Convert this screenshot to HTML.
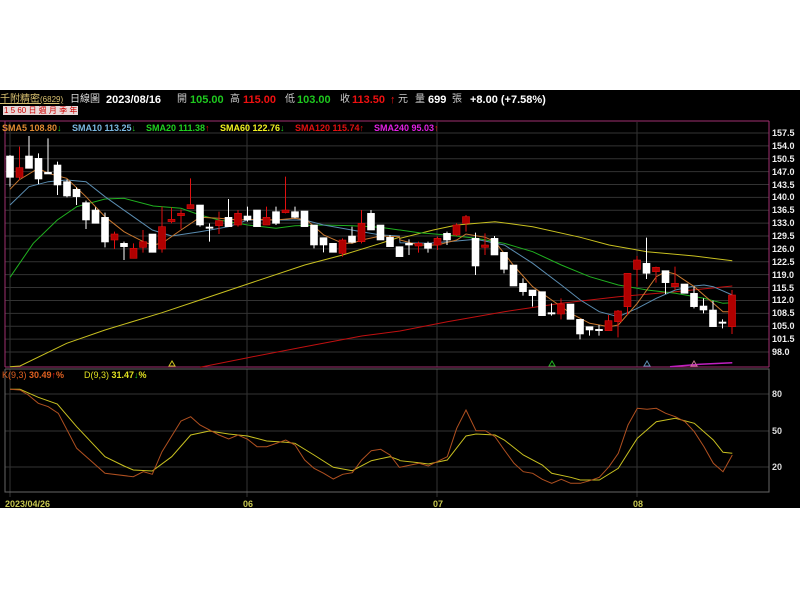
<!DOCTYPE html>
<html><head><meta charset="utf-8">
<style>
html,body{margin:0;padding:0;background:#fff;width:800px;height:600px;overflow:hidden;font-family:"Liberation Sans","Noto Sans CJK TC",sans-serif}
#bg{position:absolute;left:0;top:90px;width:800px;height:418px;background:#000}
.t{position:absolute;font-size:11px;font-weight:bold;white-space:nowrap;line-height:12px}
.l{position:absolute;font-size:9px;font-weight:bold;white-space:nowrap;top:123px;line-height:10px}
svg{position:absolute;left:0;top:0}
</style></head><body>
<div id="bg"></div>
<svg id="s" width="800" height="600"></svg>
<div class="t" style="left:0;top:94px;color:#d8c070;font-weight:normal;font-size:10px;text-decoration:underline">千附精密<span style="font-size:8px">(6829)</span></div>
<div class="t" style="left:70px;top:94px;color:#ddd;font-weight:normal;font-size:10px">日線圖</div>
<div class="t" style="left:106px;top:94px;color:#fff">2023/08/16</div>
<div class="t" style="left:177px;top:94px;color:#ccc;font-weight:normal;font-size:10px">開</div>
<div class="t" style="left:190px;top:94px;color:#1ec81e">105.00</div>
<div class="t" style="left:230px;top:94px;color:#ccc;font-weight:normal;font-size:10px">高</div>
<div class="t" style="left:243px;top:94px;color:#f01010">115.00</div>
<div class="t" style="left:285px;top:94px;color:#ccc;font-weight:normal;font-size:10px">低</div>
<div class="t" style="left:297px;top:94px;color:#1ec81e">103.00</div>
<div class="t" style="left:340px;top:94px;color:#ccc;font-weight:normal;font-size:10px">收</div>
<div class="t" style="left:352px;top:94px;color:#f01010">113.50</div>
<div class="t" style="left:390px;top:94px;color:#f01010">↑</div>
<div class="t" style="left:398px;top:94px;color:#ccc;font-weight:normal;font-size:10px">元</div>
<div class="t" style="left:415px;top:94px;color:#ccc;font-weight:normal;font-size:10px">量</div>
<div class="t" style="left:428px;top:94px;color:#fff">699</div>
<div class="t" style="left:452px;top:94px;color:#ccc;font-weight:normal;font-size:10px">張</div>
<div class="t" style="left:470px;top:94px;color:#fff">+8.00 (+7.58%)</div>
<div class="t" style="left:3px;top:106px;font-size:8px;font-weight:normal;line-height:9px;color:#c00;background:#e8d8d8;padding:0 1px">1 5 60 日 週 月 季 年</div>
<div class="l" style="left:2px;color:#e08a30">SMA5 108.80<span style="color:#1ec81e">↓</span></div>
<div class="l" style="left:72px;color:#7ab8e0">SMA10 113.25<span style="color:#1ec81e">↓</span></div>
<div class="l" style="left:146px;color:#20d020">SMA20 111.38<span style="color:#f01010">↑</span></div>
<div class="l" style="left:220px;color:#f0f020">SMA60 122.76<span style="color:#1ec81e">↓</span></div>
<div class="l" style="left:295px;color:#e01010">SMA120 115.74<span style="color:#f01010">↑</span></div>
<div class="l" style="left:374px;color:#e020e0">SMA240 95.03<span style="color:#f01010">↑</span></div>
<div class="l" style="left:2px;top:370px;color:#e06020;font-weight:normal">K(9,3) <b>30.49</b><span style="color:#f01010">↑</span><b>%</b></div>
<div class="l" style="left:84px;top:370px;color:#e0e020;font-weight:normal">D(9,3) <b>31.47</b><span style="color:#1ec81e">↓</span><b>%</b></div>
<div id="ax"></div>
<div class="l" style="left:772px;top:389px;color:#ddd">80</div>
<div class="l" style="left:772px;top:426px;color:#ddd">50</div>
<div class="l" style="left:772px;top:462px;color:#ddd">20</div>
<div class="l" style="left:5px;top:499px;color:#c8c850">2023/04/26</div>
<div class="l" style="left:243px;top:499px;color:#c8c850">06</div>
<div class="l" style="left:433px;top:499px;color:#c8c850">07</div>
<div class="l" style="left:633px;top:499px;color:#c8c850">08</div>
<script>
var s=document.getElementById('s'),h='';
var labs=["157.5","154.0","150.5","147.0","143.5","140.0","136.5","133.0","129.5","126.0","122.5","119.0","115.5","112.0","108.5","105.0","101.5","98.0"];
var ax='';
for(var i=0;i<labs.length;i++){var y=133+i*12.88;h+='<line x1="5" x2="769" y1="'+y+'" y2="'+y+'" stroke="#333" stroke-width="1"/>';
ax+='<div class="l" style="left:772px;top:'+(y-5)+'px;color:#eee">'+labs[i]+'</div>';}
document.getElementById('ax').innerHTML=ax;
[394,431,467].forEach(function(y){h+='<line x1="5" x2="769" y1="'+y+'" y2="'+y+'" stroke="#333"/>';});
[10,247,437,637].forEach(function(x){h+='<line x1="'+x+'" x2="'+x+'" y1="122" y2="367" stroke="#333"/><line x1="'+x+'" x2="'+x+'" y1="369" y2="497" stroke="#333"/>';});
h+='<line x1="0" x2="769" y1="121" y2="121" stroke="#a03070"/>';
h+='<line x1="5" x2="769" y1="367" y2="367" stroke="#a03070"/><line x1="769" x2="769" y1="121" y2="367" stroke="#a03070"/><line x1="5" x2="5" y1="121" y2="367" stroke="#a03070"/>';
h+='<polyline points="5,369 769,369 769,492 5,492 5,369" fill="none" stroke="#666"/>';
function pl(pts,off){if(!pts)return '';var p=[];for(var i=0;i<pts.length;i+=2){p.push((off+pts[i]/3).toFixed(1)+','+(130+pts[i+1]/3).toFixed(1));}return p.join(' ');}
function line(a,b,col){h+='<polyline fill="none" stroke="'+col+'" stroke-width="1" points="'+pl(a,0)+' '+pl(b,400)+'"/>';}
line([600,712,743,683,914,650,1085,618,1200,603],[0,603,142,575,313,545,484,520,655,500,826,485,997,468],'#c01010');
line([30,710,60,708,200,640,315,600,486,548,600,510,743,462,914,405,1028,375,1142,340,1198,322],[0,325,100,300,170,285,285,275,398,290,541,322,627,345,741,365,883,378,997,392],'#c8c020');
line([30,442,100,340,172,270,230,230,315,207,372,205,460,228,543,235,600,255,657,270,743,285,828,295,885,287,971,285,1057,287,1142,292,1198,300],[0,300,57,308,142,315,228,325,313,340,398,365,484,405,569,440,655,465,741,480,826,490,912,505,969,520,997,518],'#20b020');
line([30,225,87,170,145,155,200,150,258,155,315,200,400,260,457,300,515,318,600,305,686,290,743,270,828,270,914,270,971,285,1085,305,1142,315,1198,318],[0,338,85,340,170,333,228,328,313,345,398,400,484,465,541,510,598,545,655,560,712,535,769,505,826,480,883,468,912,465,940,470,997,495],'#5a8cb0');
line([30,178,57,150,115,115,145,130,200,145,258,200,315,260,372,305,430,335,457,345,486,340,543,300,600,262,657,265,714,270,771,268,828,270,885,265,920,270,971,315,1028,340,1057,340,1085,330,1142,318,1198,320],[0,330,57,345,112,345,170,330,198,312,256,322,285,335,342,408,398,470,455,510,512,550,569,580,627,590,655,585,712,520,769,440,797,425,826,432,883,470,940,520,969,545,997,545],'#c87830');
h+='<polyline fill="none" stroke="#c020c0" stroke-width="1.5" points="'+pl([810,710,900,703,997,698],400)+'"/>';
var C=[['w',78,142,75,170],['r',113,142,50,150],['w',78,115,18,115],['w',85,147,70,162],['w',127,132,25,130],['w',105,165,95,195],['w',155,198,148,202],['w',178,200,172,225],['w',218,270,212,297],['w',240,280,232,280],['w',262,336,248,352],['r',312,330,305,357],['w',340,350,335,390],['r',355,385,340,385],['r',335,352,300,368],['w',312,367,312,367],['r',290,357,230,368],['r',268,275,232,280],['r',250,257,238,297],['r',224,236,145,236],['w',225,285,225,290],['w',291,295,280,335],['r',272,287,245,312],['w',262,290,207,290],['r',250,285,240,290],['w',258,270,230,275],['w',240,290,240,290],['r',262,285,230,285],['w',245,280,230,285],['r',240,248,140,250],['w',245,262,230,265],['w',243,290,243,290],['w',285,345,285,355],['w',323,345,323,367],['w',340,367,340,367],['r',330,370,325,380],['w',318,337,290,340],['r',280,335,240,340],['w',250,300,240,300],['w',285,330,285,330],['w',322,350,315,350],['w',350,380,350,380],
['w',340,345,328,375],['r',340,348,335,368],['w',340,355,335,368],['r',325,345,320,360],['w',310,330,305,345],['r',285,315,280,318],['r',260,280,255,305],['w',325,408,308,435],['r',345,352,310,375],['w',325,375,318,375],['w',367,418,367,430],['w',405,468,405,468],['w',460,485,445,497],['w',480,497,480,530],['w',485,557,485,557],['w',548,552,520,557],['r',522,552,505,568],['w',522,568,522,568],['w',568,612,568,628],['w',590,600,590,617],['w',598,602,585,617],['r',572,602,555,602],['r',543,575,540,622],['r',430,530,430,555],['r',390,418,378,470],['w',400,430,323,447],['r',412,425,410,458],['w',422,458,422,492],['r',460,470,410,480],['w',462,490,462,490],['w',490,530,470,535],['w',528,540,505,550],['w',540,590,512,590],['w',576,580,568,595],['r',495,590,480,612]];
function Y(v){return 130+v/3;}
for(var i=0;i<C.length;i++){var c=C[i],x=10+i*9.5,col=c[0]=='w'?'#fff':'#b00000',st=c[0]=='w'?'#fff':'#e01010';
h+='<line x1="'+x+'" x2="'+x+'" y1="'+Y(c[3])+'" y2="'+Y(c[4])+'" stroke="'+st+'" stroke-width="1"/>';
var bh=Math.max(1.2,(c[2]-c[1])/3);h+='<rect x="'+(x-3.5)+'" y="'+Y(c[1])+'" width="7" height="'+bh+'" fill="'+col+'" stroke="'+st+'" stroke-width="0.6"/>';}
[[172,'#c8c020'],[552,'#20b020'],[647,'#5a8cb0'],[694,'#c87890']].forEach(function(t){h+='<polygon points="'+(t[0]-3)+',366 '+t[0]+',361 '+(t[0]+3)+',366" fill="none" stroke="'+t[1]+'"/>';});
function kd(a,b,col){var p=[];for(var i=0;i<a.length;i+=2)p.push((a[i]/3).toFixed(1)+','+(360+a[i+1]/3).toFixed(1));for(var i=0;i<b.length;i+=2)p.push((400+b[i]/3).toFixed(1)+','+(360+b[i+1]/3).toFixed(1));h+='<polyline fill="none" stroke="'+col+'" stroke-width="1" points="'+p.join(' ')+'"/>';}
kd([30,88,60,88,115,112,172,132,230,200,315,290,372,318,400,330,457,333,515,290,572,225,628,213,686,222,743,228,800,243,857,247,885,250,942,285,1000,322,1057,332,1114,302,1170,290,1198,300],[0,302,57,308,85,312,142,300,198,228,228,222,285,225,313,240,370,285,427,315,455,340,512,352,541,360,598,360,655,325,712,235,769,185,826,175,883,190,940,240,969,277,997,280],'#c8c020');
kd([30,88,60,90,85,105,115,130,145,140,175,160,230,265,315,340,400,350,430,335,457,343,486,275,543,183,572,170,600,195,657,225,686,237,714,225,743,238,771,260,800,260,857,240,885,255,914,300,942,325,971,340,1000,357,1028,343,1057,338,1085,300,1114,272,1142,268,1170,285,1198,322],[0,322,57,310,85,318,142,290,170,205,198,150,228,212,256,212,285,230,313,270,342,310,370,335,398,340,427,358,455,370,484,358,512,370,541,370,569,362,598,352,627,320,655,280,684,195,712,145,741,148,769,145,797,160,826,170,855,185,883,215,912,260,940,310,969,335,997,285],'#b05020');
s.innerHTML=h;
</script>
</body></html>
